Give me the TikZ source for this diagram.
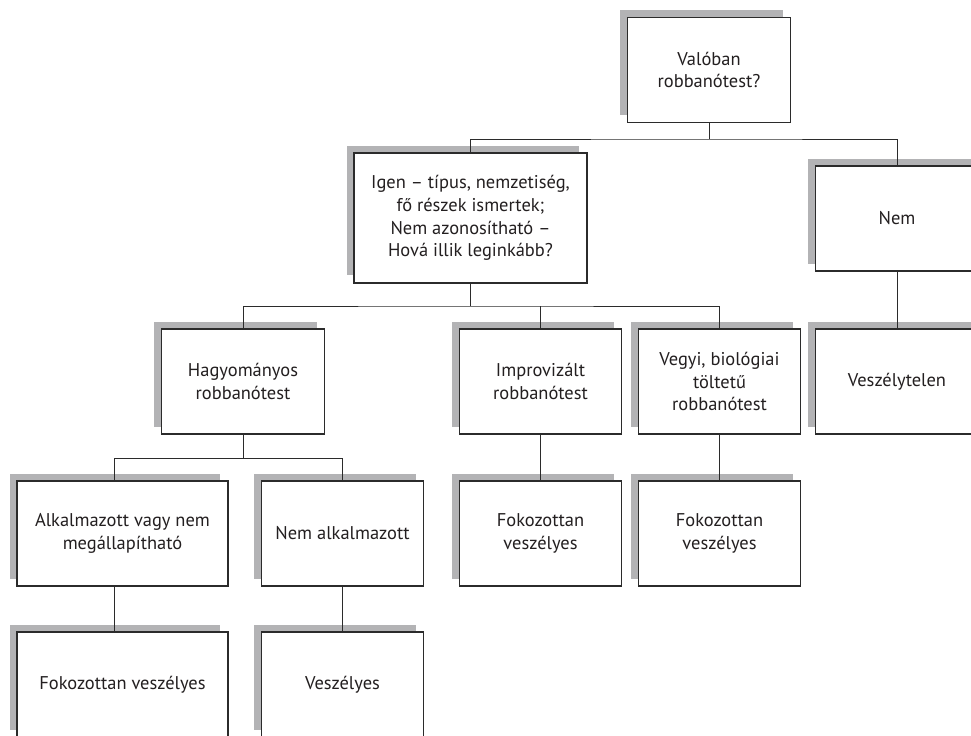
\documentclass[tikz,border=0pt]{standalone}
\usepackage{fontspec}
\setmainfont{PT Sans}
\usepackage{tikz}
\usetikzlibrary{shadows}
\definecolor{shadowgrey}{HTML}{B3B3B5}
\definecolor{boxline}{HTML}{2B2B2B}
\definecolor{textcol}{HTML}{231F20}
\tikzset{box/.style = {shape=rectangle,draw=boxline,line width=0.75pt,fill=white,
    text=textcol,align=center,inner sep=2pt,
    font=\fontsize{10.5}{13}\selectfont,
    minimum width=3.25cm,minimum height=2.1cm,
    drop shadow={shadow xshift=-0.15cm,shadow yshift=0.15cm,fill=shadowgrey,opacity=1}}}
\tikzset{link/.style = {draw=boxline,line width=0.55pt}}

\begin{document}
\begin{tikzpicture}[x=0.02cm,y=-0.02cm]
                    \useasboundingbox (0,0) rectangle (971,735);
                    \clip (0,0) rectangle (971,735);

                    \node[box] (valoban) at (709,70) {Valóban\\robbanótest?};

                    \node[box,minimum width=4.66cm,minimum height=2.6cm] (igen) at (470.5,218) {Igen -- típus, nemzetiség,\\fő részek ismertek;\\Nem azonosítható --\\Hová illik leginkább?};
                    \node[box] (nem) at (897,218.5) {Nem};

                    \node[box] (hagy) at (243,381.5) {Hagyományos\\robbanótest};
                    \node[box] (impro) at (540.5,381.5) {Improvizált\\robbanótest};
                    \node[box] (vegyi) at (719.5,381.5) {Vegyi, biológiai\\töltetű\\robbanótest};
                    \node[box] (veszelytelen) at (897,381.5) {Veszélytelen};

                    \node[box,minimum width=4.22cm] (alk) at (122.5,533.5) {Alkalmazott vagy nem\\megállapítható};
                    \node[box] (nemalk) at (342.5,533.5) {Nem alkalmazott};
                    \node[box] (fok1) at (540.5,533.5) {Fokozottan\\veszélyes};
                    \node[box] (fok2) at (719.5,533.5) {Fokozottan\\veszélyes};

                    \node[box,minimum width=4.22cm] (fokvesz) at (122.5,684.5) {Fokozottan veszélyes};
                    \node[box] (veszelyes) at (342.5,684.5) {Veszélyes};

                    \coordinate (valjoin) at (709,139);
                    \coordinate (igenjoin) at (470.5,306);
                    \coordinate (hagyjoin) at (243,458);

                    \draw[link] (valoban.south) -- (valjoin);
                    \draw[link] (igen.north) |- (valjoin) -| (nem.north);
                    \draw[link] (igen.south) -- (igenjoin);
                    \draw[link] (hagy.north) |- (igenjoin) -| (vegyi.north);
                    \draw[link] (impro.north) -- (impro.north |- igenjoin);
                    \draw[link] (nem.south) -- (veszelytelen.north);
                    \draw[link] (hagy.south) -- (hagyjoin);
                    \draw[link] ([xshift=-0.17cm]alk.north) |- (hagyjoin) -| (nemalk.north);
                    \draw[link] (impro.south) -- (fok1.north);
                    \draw[link] (vegyi.south) -- (fok2.north);
                    \draw[link] ([xshift=-0.17cm]alk.south) -- ([xshift=-0.17cm]fokvesz.north);
                    \draw[link] (nemalk.south) -- (veszelyes.north);
                \end{tikzpicture}
\end{document}
